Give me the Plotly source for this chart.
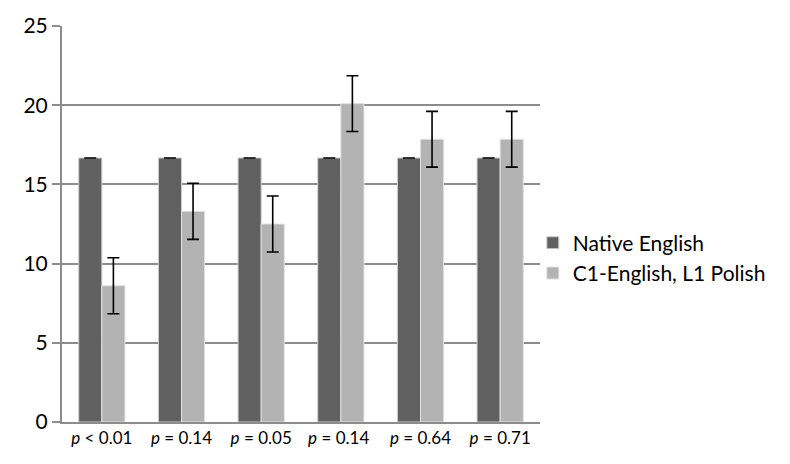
import plotly.graph_objects as go

# p-values shown under each category pair
categories = ["<i>p</i> < 0.01", "<i>p</i> = 0.14", "<i>p</i> = 0.05",
              "<i>p</i> = 0.14 ", "<i>p</i> = 0.64", "<i>p</i> = 0.71"]

native_english = [16.67, 16.67, 16.67, 16.67, 16.67, 16.67]
native_error = [0, 0, 0, 0, 0, 0]

c1_english = [8.6, 13.3, 12.5, 20.1, 17.85, 17.85]
c1_error = [1.77, 1.77, 1.77, 1.76, 1.76, 1.76]

y_ticks = [0, 5, 10, 15, 20, 25]

FONT = "Lato"
GRID = "#8c8c8c"

fig = go.Figure()
fig.add_trace(go.Bar(
    x=categories, y=native_english, name="Native English",
    marker=dict(color="#606060", line=dict(color="#d0d0d0", width=1)),
    error_y=dict(type="data", array=native_error, visible=True,
                 color="black", thickness=1.6, width=6),
))
fig.add_trace(go.Bar(
    x=categories, y=c1_english, name="C1-English, L1 Polish",
    marker=dict(color="#b3b3b3", line=dict(color="#e0e0e0", width=1)),
    error_y=dict(type="data", array=c1_error, visible=True,
                 color="black", thickness=1.6, width=6),
))

fig.update_layout(
    width=790, height=464,
    margin=dict(l=62, r=250, t=26, b=42),
    paper_bgcolor="white", plot_bgcolor="white",
    barmode="group", bargap=0.42, bargroupgap=0,
    font=dict(family=FONT, color="black"),
    legend=dict(x=0.985, y=0.414, xanchor="left", yanchor="middle",
                font=dict(size=21, family=FONT), tracegroupgap=0,
                itemwidth=30, bgcolor="rgba(0,0,0,0)"),
    xaxis=dict(
        showline=True, linecolor=GRID, linewidth=2,
        ticks="", tickfont=dict(size=17, family=FONT),
        showgrid=False,
    ),
    yaxis=dict(
        range=[0, 25], tickvals=y_ticks,
        showgrid=True, gridcolor=GRID, gridwidth=2,
        showline=True, linecolor=GRID, linewidth=2,
        ticks="outside", ticklen=8, tickcolor=GRID, tickwidth=2,
        tickfont=dict(size=21, family=FONT),
        ticksuffix="\u2007",
        zeroline=False,
    ),
)

fig.write_html("out.html")
